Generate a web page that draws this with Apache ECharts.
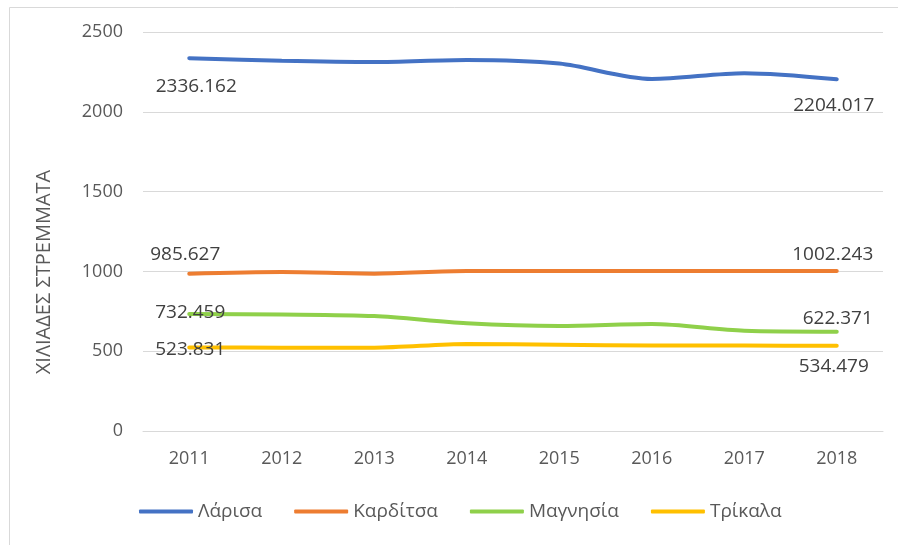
<!DOCTYPE html>
<html>
<head>
<meta charset="utf-8">
<script src="https://cdn.jsdelivr.net/npm/echarts@6/dist/echarts.min.js"></script>
<style>html,body{margin:0;padding:0;background:#fff}#c{width:898px;height:545px}</style>
</head>
<body>
<div id="c"></div>
<script>
var years = ['2011','2012','2013','2014','2015','2016','2017','2018'];
var seriesNames = ['Λάρισα','Καρδίτσα','Μαγνησία','Τρίκαλα'];
var larisa   = [2336.162, 2320, 2312, 2325, 2302, 2206, 2242, 2204.017];
var karditsa = [985.627, 996, 986, 1002, 1002, 1002, 1002, 1002.243];
var magnisia = [732.459, 730, 720, 675, 658, 670, 628, 622.371];
var trikala  = [523.831, 522, 522, 545, 540, 535, 535, 534.479];
var yTicks = [0, 500, 1000, 1500, 2000, 2500];
var yAxisTitle = 'ΧΙΛΙΑΔΕΣ ΣΤΡΕΜΜΑΤΑ';

var colors = ['#4472C4', '#ED7D31', '#8FD04A', '#FFC000'];
var allValues = [larisa, karditsa, magnisia, trikala];
// label offsets [first, last] relative to the point
var labelOffsets = [
  [[7, 28], [-3, 26]],
  [[-4, -19], [-4, -16]],
  [[1, -2], [1, -13]],
  [[1, 2], [-3, 21]]
];
var FONT = '"Open Sans", "Noto Sans", sans-serif';

function buildData(vals, offs) {
  return vals.map(function (v, i) {
    var item = { value: v };
    if (i === 0 || i === vals.length - 1) {
      var o = i === 0 ? offs[0] : offs[1];
      item.label = {
        show: true, position: 'inside', offset: o,
        formatter: function (p) { return String(p.value); }
      };
    }
    return item;
  });
}

var chart = echarts.init(document.getElementById('c'));
chart.setOption({
  animation: false,
  backgroundColor: '#fff',
  color: colors,
  graphic: [
    { type: 'rect', left: 7, top: 5, shape: { width: 1000, height: 1000 },
      style: { fill: 'none', stroke: '#d9d9d9', lineWidth: 1 }, z: -1 },
    { type: 'text', x: 44, y: 272, rotation: Math.PI / 2,
      style: { text: yAxisTitle, fill: '#595959', font: '20px ' + FONT,
               align: 'center', verticalAlign: 'middle' } }
  ],
  grid: { left: 143, right: 15, top: 32, bottom: 114 },
  legend: {
    left: 134, top: 497,
    icon: 'roundRect', itemWidth: 54, itemHeight: 4, itemGap: 32,
    textStyle: { color: '#595959', fontSize: 19, fontFamily: FONT, padding: [0, 0, 0, 0] },
    data: seriesNames
  },
  xAxis: {
    type: 'category', data: years, boundaryGap: true,
    axisLine: { lineStyle: { color: '#d9d9d9', width: 1 } },
    axisTick: { show: false },
    axisLabel: { color: '#595959', fontSize: 18, fontFamily: FONT, margin: 19 }
  },
  yAxis: {
    type: 'value', min: yTicks[0], max: yTicks[yTicks.length - 1], interval: 500,
    axisLine: { show: false }, axisTick: { show: false },
    splitLine: { lineStyle: { color: '#d9d9d9', width: 1 } },
    axisLabel: { color: '#595959', fontSize: 18, fontFamily: FONT, margin: 20,
                 formatter: function (v) { return String(v); } }
  },
  series: seriesNames.map(function (n, k) {
    return {
      name: n, type: 'line', smooth: 0.3,
      symbol: 'circle', symbolSize: 0, showSymbol: true, showAllSymbol: true,
      lineStyle: { width: 4, color: colors[k], cap: 'round' },
      itemStyle: { color: colors[k] },
      label: { color: '#404040', fontSize: 19, fontFamily: FONT },
      emphasis: { disabled: true },
      data: buildData(allValues[k], labelOffsets[k])
    };
  })
});
</script>
</body>
</html>
